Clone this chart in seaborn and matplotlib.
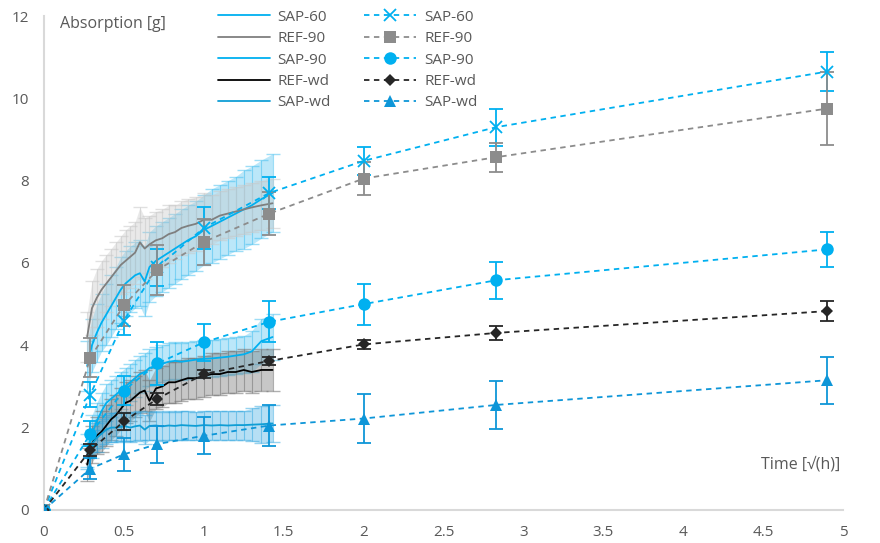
import matplotlib

matplotlib.use('Agg')

import matplotlib.pyplot as plt
from matplotlib.lines import Line2D
import seaborn as sns
import numpy as np

# --- datos ---

# series continuas (medidas cada pocos minutos), eje x en sqrt(h)
t_cont = [0.27, 0.30, 0.33, 0.36, 0.39, 0.42, 0.45, 0.48, 0.51, 0.54,
          0.57, 0.60, 0.63, 0.66, 0.70, 0.74, 0.78, 0.82, 0.86, 0.90,
          0.95, 1.00, 1.05, 1.10, 1.15, 1.20, 1.25, 1.30, 1.36, 1.43]

sap60_cont = [3.50, 4.00, 4.30, 4.55, 4.75, 4.95, 5.15, 5.35, 5.50, 5.60,
              5.70, 5.75, 5.55, 5.90, 6.05, 6.15, 6.25, 6.35, 6.45, 6.55,
              6.65, 6.80, 6.90, 7.00, 7.10, 7.20, 7.30, 7.40, 7.55, 7.70]
sap60_cont_err = [0.60, 0.65, 0.70, 0.70, 0.75, 0.75, 0.75, 0.80, 0.80, 0.80,
                  0.80, 0.80, 0.85, 0.85, 0.85, 0.85, 0.85, 0.85, 0.85, 0.85,
                  0.85, 0.85, 0.90, 0.90, 0.90, 0.90, 0.95, 0.95, 0.95, 0.95]

ref90_cont = [4.20, 4.90, 5.15, 5.35, 5.50, 5.65, 5.80, 5.95, 6.05, 6.15,
              6.25, 6.50, 6.35, 6.45, 6.55, 6.60, 6.70, 6.75, 6.85, 6.90,
              6.95, 7.05, 7.05, 7.15, 7.20, 7.25, 7.30, 7.35, 7.40, 7.45]
ref90_cont_err = [0.60, 0.65, 0.70, 0.70, 0.70, 0.70, 0.70, 0.70, 0.75, 0.75,
                  0.75, 0.85, 0.75, 0.70, 0.70, 0.70, 0.70, 0.65, 0.65, 0.65,
                  0.65, 0.65, 0.60, 0.60, 0.60, 0.60, 0.60, 0.60, 0.60, 0.60]

sap90_cont = [1.45, 1.85, 2.15, 2.40, 2.60, 2.70, 2.80, 2.90, 3.00, 3.10,
              3.20, 3.30, 3.35, 3.45, 3.50, 3.55, 3.60, 3.62, 3.60, 3.62,
              3.65, 3.67, 3.68, 3.70, 3.72, 3.75, 3.78, 3.85, 4.10, 4.20]
sap90_cont_err = [0.40, 0.45, 0.45, 0.45, 0.45, 0.45, 0.45, 0.45, 0.45, 0.45,
                  0.45, 0.45, 0.45, 0.45, 0.45, 0.45, 0.45, 0.45, 0.45, 0.45,
                  0.45, 0.45, 0.45, 0.45, 0.45, 0.45, 0.45, 0.50, 0.55, 0.55]

refwd_cont = [1.10, 1.60, 1.80, 1.90, 2.05, 2.20, 2.30, 2.45, 2.60, 2.65,
              2.75, 2.85, 2.90, 2.65, 2.95, 3.00, 3.10, 3.10, 3.15, 3.20,
              3.20, 3.25, 3.30, 3.30, 3.35, 3.35, 3.40, 3.35, 3.40, 3.40]
refwd_cont_err = [0.40, 0.45, 0.45, 0.50, 0.50, 0.50, 0.50, 0.50, 0.50, 0.50,
                  0.50, 0.50, 0.50, 0.50, 0.50, 0.50, 0.50, 0.50, 0.50, 0.50,
                  0.50, 0.50, 0.50, 0.50, 0.50, 0.50, 0.50, 0.50, 0.50, 0.50]

sapwd_cont = [1.30, 1.60, 1.75, 1.85, 1.95, 2.00, 2.00, 2.02, 2.03, 2.00,
              2.03, 2.05, 1.95, 2.04, 2.05, 2.03, 2.05, 2.04, 2.06, 2.05,
              2.04, 2.06, 2.05, 2.06, 2.05, 2.06, 2.06, 2.07, 2.08, 2.10]
sapwd_cont_err = [0.30, 0.35, 0.35, 0.35, 0.35, 0.35, 0.35, 0.35, 0.35, 0.35,
                  0.35, 0.35, 0.35, 0.35, 0.35, 0.35, 0.35, 0.35, 0.35, 0.35,
                  0.35, 0.35, 0.35, 0.35, 0.35, 0.35, 0.35, 0.40, 0.45, 0.45]

# series discretas (pesadas), 0, 5min, 15min, 30min, 1h, 2h, 4h, 8h, 24h
t_disc = [0, 0.29, 0.5, 0.71, 1.0, 1.41, 2.0, 2.83, 4.9]

sap60_disc = [0, 2.80, 4.60, 5.90, 6.85, 7.70, 8.48, 9.30, 10.65]
sap60_disc_err = [0, 0.30, 0.35, 0.45, 0.50, 0.38, 0.34, 0.45, 0.47]

ref90_disc = [0, 3.70, 4.97, 5.83, 6.51, 7.20, 8.05, 8.57, 9.75]
ref90_disc_err = [0, 0.47, 0.50, 0.60, 0.55, 0.52, 0.40, 0.35, 0.88]

sap90_disc = [0, 1.85, 2.90, 3.56, 4.07, 4.57, 5.00, 5.58, 6.33]
sap90_disc_err = [0, 0.30, 0.35, 0.53, 0.45, 0.50, 0.50, 0.45, 0.43]

refwd_disc = [0, 1.45, 2.15, 2.70, 3.30, 3.62, 4.02, 4.30, 4.83]
refwd_disc_err = [0, 0.15, 0.20, 0.15, 0.10, 0.10, 0.10, 0.17, 0.25]

sapwd_disc = [0, 1.00, 1.35, 1.60, 1.80, 2.05, 2.22, 2.55, 3.15]
sapwd_disc_err = [0, 0.25, 0.40, 0.45, 0.45, 0.50, 0.60, 0.58, 0.57]

labels = ['SAP-60', 'REF-90', 'SAP-90', 'REF-wd', 'SAP-wd']

x_ticks = [0, 0.5, 1, 1.5, 2, 2.5, 3, 3.5, 4, 4.5, 5]
x_tick_labels = ['0', '0.5', '1', '1.5', '2', '2.5', '3', '3.5', '4', '4.5', '5']
y_ticks = [0, 2, 4, 6, 8, 10, 12]

# --- estilo ---

CYAN = '#00B0F0'
GRAY = '#8C8C8C'
BLACK = '#262626'
BLUE = '#0E96D8'
TEXT = '#595959'

sns.set_style('white')
plt.rcParams['font.family'] = ['Open Sans', 'DejaVu Sans']

fig, ax = plt.subplots(figsize=(8.8, 5.43), dpi=100)
fig.subplots_adjust(left=0.05, right=0.958, bottom=0.061, top=0.9705)

# (media, error, color linea, color banda, alpha banda)
cont_series = [
    (sap60_cont, sap60_cont_err, CYAN, '#3DBDEF', 0.5),
    (ref90_cont, ref90_cont_err, '#7F7F7F', '#C8C8C8', 0.55),
    (sap90_cont, sap90_cont_err, CYAN, '#3DBDEF', 0.5),
    (refwd_cont, refwd_cont_err, '#000000', '#7A7A7A', 0.6),
    (sapwd_cont, sapwd_cont_err, '#0F9ED5', '#2FA6E0', 0.5),
]

# bandas de error de las curvas continuas
for mean, err, line_color, band_color, alpha in cont_series:

    lo = np.array(mean) - np.array(err)
    hi = np.array(mean) + np.array(err)

    ax.fill_between(
        t_cont,
        lo,
        hi,
        color=band_color,
        alpha=alpha * 0.7,
        linewidth=0,
        zorder=1,
    )

    ax.errorbar(
        t_cont,
        mean,
        yerr=err,
        fmt='none',
        ecolor=band_color,
        elinewidth=0.8,
        capsize=5,
        capthick=1.0,
        alpha=alpha,
        zorder=1,
    )

# lineas continuas
for mean, err, line_color, band_color, alpha in cont_series:

    sns.lineplot(
        x=t_cont,
        y=mean,
        color=line_color,
        linewidth=1.3,
        ax=ax,
        zorder=3,
    )

# (media, error, color, marcador, tamano)
disc_series = [
    (sap60_disc, sap60_disc_err, CYAN, 'x', 8),
    (ref90_disc, ref90_disc_err, GRAY, 's', 8),
    (sap90_disc, sap90_disc_err, CYAN, 'o', 9),
    (refwd_disc, refwd_disc_err, BLACK, 'D', 6.5),
    (sapwd_disc, sapwd_disc_err, BLUE, '^', 8.5),
]

# series discretas con barras de error
for mean, err, color, marker, size in disc_series:

    ax.errorbar(
        t_disc,
        mean,
        yerr=err,
        fmt='none',
        ecolor=color,
        elinewidth=1.3,
        capsize=5,
        capthick=1.3,
        zorder=4,
    )

    sns.lineplot(
        x=t_disc,
        y=mean,
        color=color,
        linestyle=(0, (3, 2.5)),
        linewidth=1.3,
        marker=marker,
        markersize=size,
        markeredgewidth=1.3 if marker == 'x' else 0,
        markeredgecolor=color,
        ax=ax,
        zorder=5,
    )

# --- ejes ---

ax.set_xlim(0, 5)
ax.set_ylim(0, 12)

ax.set_xticks(x_ticks)
ax.set_xticklabels(x_tick_labels)
ax.set_yticks(y_ticks)

ax.tick_params(
    axis='both',
    length=0,
    pad=11,
    labelsize=11,
    labelcolor=TEXT,
)

for side in ['top', 'right']:
    ax.spines[side].set_visible(False)

for side in ['left', 'bottom']:
    ax.spines[side].set_color('#D9D9D9')
    ax.spines[side].set_linewidth(1.5)

ax.set_xlabel('')
ax.set_ylabel('')

ax.text(
    0.1,
    11.8,
    'Absorption [g]',
    fontsize=11.5,
    color=TEXT,
    va='center',
    ha='left',
)

ax.text(
    4.98,
    1.1,
    'Time [√(h)]',
    fontsize=11.5,
    color=TEXT,
    va='center',
    ha='right',
)

# --- leyenda ---

handles = []

for mean, err, line_color, band_color, alpha in cont_series:
    handles.append(
        Line2D([], [], color=line_color, linewidth=1.3)
    )

for mean, err, color, marker, size in disc_series:
    handles.append(
        Line2D(
            [], [],
            color=color,
            linestyle=(0, (3, 2.5)),
            linewidth=1.3,
            marker=marker,
            markersize=size,
            markeredgewidth=1.3 if marker == 'x' else 0,
        )
    )

ax.legend(
    handles,
    labels + labels,
    ncol=2,
    loc='upper left',
    bbox_to_anchor=(0.21, 1.025),
    frameon=False,
    fontsize=11,
    labelcolor=TEXT,
    handlelength=3.4,
    handletextpad=0.5,
    columnspacing=2.2,
    labelspacing=0.42,
    borderaxespad=0,
)

plt.savefig('out.png', dpi=100)

plt.close()
